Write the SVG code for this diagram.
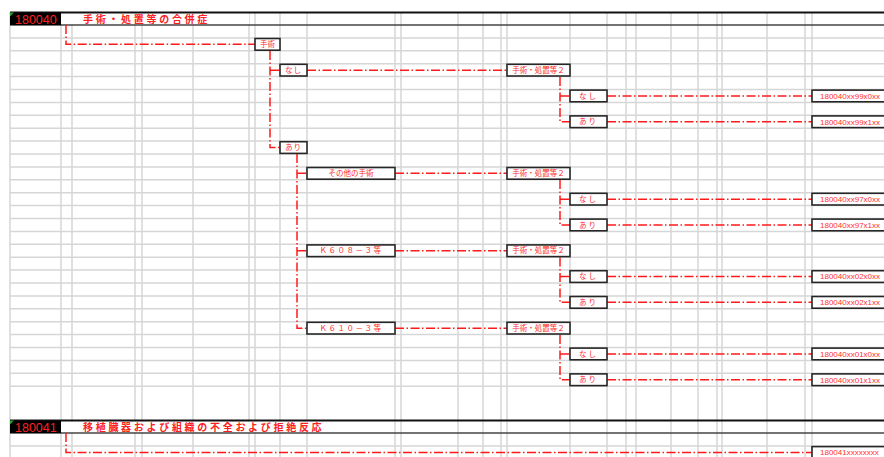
<svg xmlns="http://www.w3.org/2000/svg" width="884" height="457" viewBox="0 0 884 457">
<defs>
<style>
.grid line{stroke:#d6d6d6;stroke-width:1.5}
.dash{fill:none;stroke:#ff1a1a;stroke-width:1.5;stroke-dasharray:9 2.5 1.5 2.5}
.box{fill:#fff;stroke:#262626;stroke-width:1.6}
.lbl{font-family:"Noto Sans CJK JP","Noto Sans",sans-serif;font-size:7.5px;fill:#ff2a2a;text-anchor:middle}
.res{font-family:"Liberation Sans",Arial,sans-serif;font-size:8px;fill:#ff3030}
.code{font-family:"Liberation Sans",Arial,sans-serif;font-size:12.5px;fill:#ff2020}
.title{font-family:"Noto Sans CJK JP","Noto Sans",sans-serif;font-size:10px;font-weight:bold;fill:#ff2020;letter-spacing:2.7px}
</style>
</defs>
<rect width="884" height="457" fill="#fff"/>
<g class="grid">
<line x1="10" y1="12" x2="10" y2="457"/><line x1="61" y1="12" x2="61" y2="457"/><line x1="72" y1="12" x2="72" y2="457"/><line x1="135" y1="12" x2="135" y2="457"/><line x1="142" y1="12" x2="142" y2="457"/><line x1="193" y1="12" x2="193" y2="457"/><line x1="249" y1="12" x2="249" y2="457"/><line x1="255" y1="12" x2="255" y2="457"/><line x1="280" y1="12" x2="280" y2="457"/><line x1="307" y1="12" x2="307" y2="457"/><line x1="395" y1="12" x2="395" y2="457"/><line x1="401" y1="12" x2="401" y2="457"/><line x1="458" y1="12" x2="458" y2="457"/><line x1="483" y1="12" x2="483" y2="457"/><line x1="501" y1="12" x2="501" y2="457"/><line x1="507" y1="12" x2="507" y2="457"/><line x1="570" y1="12" x2="570" y2="457"/><line x1="607" y1="12" x2="607" y2="457"/><line x1="626" y1="12" x2="626" y2="457"/><line x1="636" y1="12" x2="636" y2="457"/><line x1="671" y1="12" x2="671" y2="457"/><line x1="698" y1="12" x2="698" y2="457"/><line x1="717" y1="12" x2="717" y2="457"/><line x1="722" y1="12" x2="722" y2="457"/><line x1="767" y1="12" x2="767" y2="457"/><line x1="805" y1="12" x2="805" y2="457"/><line x1="812" y1="12" x2="812" y2="457"/>
<line x1="10" y1="37.9" x2="884" y2="37.9"/><line x1="10" y1="50.8" x2="884" y2="50.8"/><line x1="10" y1="63.7" x2="884" y2="63.7"/><line x1="10" y1="76.6" x2="884" y2="76.6"/><line x1="10" y1="89.5" x2="884" y2="89.5"/><line x1="10" y1="102.4" x2="884" y2="102.4"/><line x1="10" y1="115.3" x2="884" y2="115.3"/><line x1="10" y1="128.2" x2="884" y2="128.2"/><line x1="10" y1="141.1" x2="884" y2="141.1"/><line x1="10" y1="154" x2="884" y2="154"/><line x1="10" y1="166.9" x2="884" y2="166.9"/><line x1="10" y1="179.8" x2="884" y2="179.8"/><line x1="10" y1="192.7" x2="884" y2="192.7"/><line x1="10" y1="205.6" x2="884" y2="205.6"/><line x1="10" y1="218.5" x2="884" y2="218.5"/><line x1="10" y1="231.4" x2="884" y2="231.4"/><line x1="10" y1="244.3" x2="884" y2="244.3"/><line x1="10" y1="257.2" x2="884" y2="257.2"/><line x1="10" y1="270.1" x2="884" y2="270.1"/><line x1="10" y1="283" x2="884" y2="283"/><line x1="10" y1="295.9" x2="884" y2="295.9"/><line x1="10" y1="308.8" x2="884" y2="308.8"/><line x1="10" y1="321.7" x2="884" y2="321.7"/><line x1="10" y1="334.6" x2="884" y2="334.6"/><line x1="10" y1="347.5" x2="884" y2="347.5"/><line x1="10" y1="360.4" x2="884" y2="360.4"/><line x1="10" y1="373.3" x2="884" y2="373.3"/><line x1="10" y1="386.2" x2="884" y2="386.2"/><line x1="10" y1="446" x2="884" y2="446"/>
</g>
<g id="header-180040">
<rect x="61" y="13.5" width="188" height="11" fill="#fff"/>
<line x1="10" y1="12.5" x2="884" y2="12.5" stroke="#111" stroke-width="2"/>
<line x1="10" y1="25" x2="884" y2="25" stroke="#444" stroke-width="1.5"/>
<rect x="10" y="12.5" width="51" height="12.5" fill="#000"/>
<polygon points="10,12.5 14,12.5 10,16.5" fill="#2a9a2a"/>
<text class="code" x="15" y="24.3">180040</text>
<text class="title" x="83" y="23">手術・処置等の合併症</text>
</g>
<g id="header-180041">
<rect x="61" y="421.5" width="269" height="11" fill="#fff"/>
<line x1="10" y1="420.5" x2="884" y2="420.5" stroke="#111" stroke-width="2"/>
<line x1="10" y1="433" x2="884" y2="433" stroke="#444" stroke-width="1.5"/>
<rect x="10" y="420.5" width="51" height="12.5" fill="#000"/>
<polygon points="10,420.5 14,420.5 10,424.5" fill="#2a9a2a"/>
<text class="code" x="15" y="432.3">180041</text>
<text class="title" x="83" y="431">移植臓器および組織の不全および拒絶反応</text>
</g>
<g id="connectors">
<path class="dash" d="M66,25 V44.35 H255"/>
<path class="dash" d="M270,51 V147.55 H280 M270,70.15 H280"/>
<path class="dash" d="M307,70.15 H507"/>
<path class="dash" d="M560,77 V121.75 H570 M560,95.95 H570"/>
<path class="dash" d="M607,95.95 H812 M607,121.75 H812"/>
<path class="dash" d="M297,154 V328.15 H307 M297,173.35 H307 M297,250.75 H307"/>
<path class="dash" d="M395,173.35 H507 M395,250.75 H507 M395,328.15 H507"/>
<path class="dash" d="M560,180 V224.95 H570 M560,199.15 H570"/>
<path class="dash" d="M560,257.5 V302.35 H570 M560,276.55 H570"/>
<path class="dash" d="M560,335 V379.75 H570 M560,353.95 H570"/>
<path class="dash" d="M607,199.15 H812 M607,224.95 H812 M607,276.55 H812 M607,302.35 H812 M607,353.95 H812 M607,379.75 H812"/>
<path class="dash" d="M66,433 V452.5 H812"/>
</g>
<g id="n-shujutsu"><rect class="box" x="255" y="38.5" width="25" height="11.7"/><text class="lbl" x="267.5" y="47">手術</text></g>
<g id="n-nashi1"><rect class="box" x="280" y="64.3" width="27" height="11.7"/><text class="lbl" x="293.5" y="72.8" letter-spacing="1">なし</text></g>
<g id="n-ari1"><rect class="box" x="280" y="141.7" width="27" height="11.7"/><text class="lbl" x="293.5" y="150.2" letter-spacing="1">あり</text></g>
<g id="n-sonota"><rect class="box" x="307" y="167.5" width="88" height="11.7"/><text class="lbl" x="351" y="176">その他の手術</text></g>
<g id="n-k608"><rect class="box" x="307" y="244.9" width="88" height="11.7"/><text class="lbl" x="351" y="253.4" letter-spacing="1.5">Ｋ６０８－３等</text></g>
<g id="n-k610"><rect class="box" x="307" y="322.3" width="88" height="11.7"/><text class="lbl" x="351" y="330.8" letter-spacing="1.5">Ｋ６１０－３等</text></g>
<g id="n-sho2-a"><rect class="box" x="507" y="64.3" width="63" height="11.7"/><text class="lbl" x="538.5" y="72.8">手術・処置等２</text></g>
<g id="n-sho2-b"><rect class="box" x="507" y="167.5" width="63" height="11.7"/><text class="lbl" x="538.5" y="176">手術・処置等２</text></g>
<g id="n-sho2-c"><rect class="box" x="507" y="244.9" width="63" height="11.7"/><text class="lbl" x="538.5" y="253.4">手術・処置等２</text></g>
<g id="n-sho2-d"><rect class="box" x="507" y="322.3" width="63" height="11.7"/><text class="lbl" x="538.5" y="330.8">手術・処置等２</text></g>
<g id="n-nashi-a"><rect class="box" x="570" y="90.1" width="37" height="11.7"/><text class="lbl" x="588.5" y="98.6" letter-spacing="2">なし</text></g>
<g id="n-ari-a"><rect class="box" x="570" y="115.9" width="37" height="11.7"/><text class="lbl" x="588.5" y="124.4" letter-spacing="2">あり</text></g>
<g id="n-nashi-b"><rect class="box" x="570" y="193.3" width="37" height="11.7"/><text class="lbl" x="588.5" y="201.8" letter-spacing="2">なし</text></g>
<g id="n-ari-b"><rect class="box" x="570" y="219.1" width="37" height="11.7"/><text class="lbl" x="588.5" y="227.6" letter-spacing="2">あり</text></g>
<g id="n-nashi-c"><rect class="box" x="570" y="270.7" width="37" height="11.7"/><text class="lbl" x="588.5" y="279.2" letter-spacing="2">なし</text></g>
<g id="n-ari-c"><rect class="box" x="570" y="296.5" width="37" height="11.7"/><text class="lbl" x="588.5" y="305" letter-spacing="2">あり</text></g>
<g id="n-nashi-d"><rect class="box" x="570" y="348.1" width="37" height="11.7"/><text class="lbl" x="588.5" y="356.6" letter-spacing="2">なし</text></g>
<g id="n-ari-d"><rect class="box" x="570" y="373.9" width="37" height="11.7"/><text class="lbl" x="588.5" y="382.4" letter-spacing="2">あり</text></g>
<g id="r-99x0"><rect class="box" x="812" y="90.1" width="80" height="11.7"/><text class="res" x="820" y="98.8">180040xx99x0xx</text></g>
<g id="r-99x1"><rect class="box" x="812" y="115.9" width="80" height="11.7"/><text class="res" x="820" y="124.6">180040xx99x1xx</text></g>
<g id="r-97x0"><rect class="box" x="812" y="193.3" width="80" height="11.7"/><text class="res" x="820" y="202">180040xx97x0xx</text></g>
<g id="r-97x1"><rect class="box" x="812" y="219.1" width="80" height="11.7"/><text class="res" x="820" y="227.8">180040xx97x1xx</text></g>
<g id="r-02x0"><rect class="box" x="812" y="270.7" width="80" height="11.7"/><text class="res" x="820" y="279.4">180040xx02x0xx</text></g>
<g id="r-02x1"><rect class="box" x="812" y="296.5" width="80" height="11.7"/><text class="res" x="820" y="305.2">180040xx02x1xx</text></g>
<g id="r-01x0"><rect class="box" x="812" y="348.1" width="80" height="11.7"/><text class="res" x="820" y="356.8">180040xx01x0xx</text></g>
<g id="r-01x1"><rect class="box" x="812" y="373.9" width="80" height="11.7"/><text class="res" x="820" y="382.6">180040xx01x1xx</text></g>
<g id="r-180041"><rect class="box" x="812" y="446.6" width="80" height="11.7"/><text class="res" x="820" y="455.3">180041xxxxxxxx</text></g>
</svg>
